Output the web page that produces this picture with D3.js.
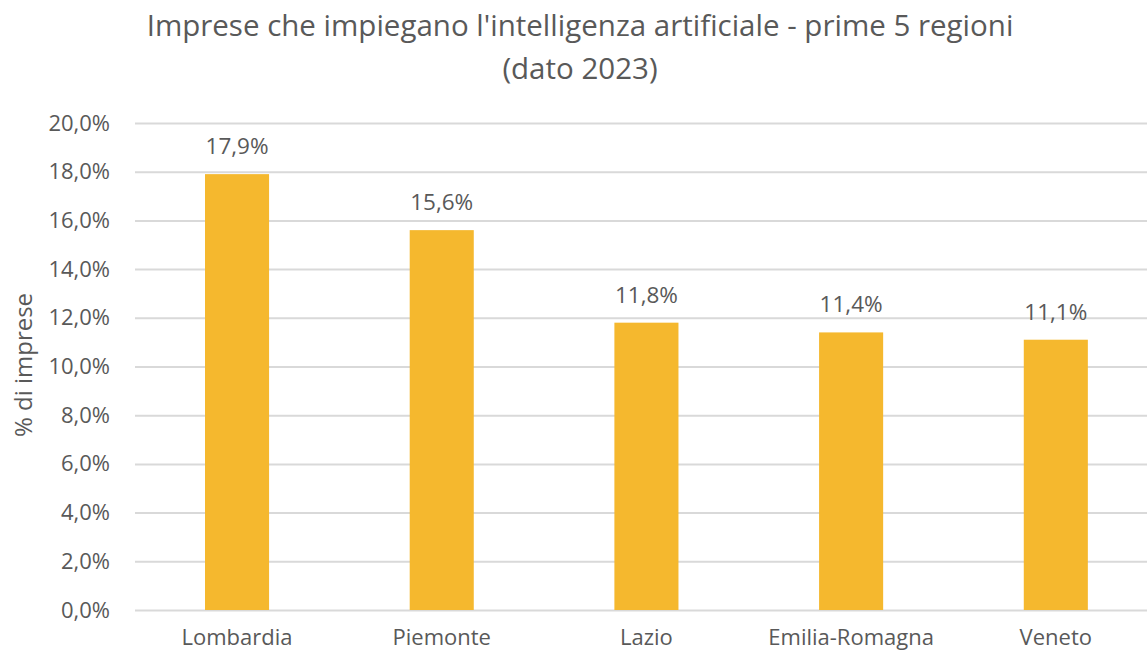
<!DOCTYPE html>
<html>
<head>
<meta charset="utf-8">
<script src="https://cdn.jsdelivr.net/npm/d3@7"></script>
<style>
  body { margin: 0; background: #fff; }
  text { font-family: "Open Sans", "Noto Sans", sans-serif; fill: #595959; }
</style>
</head>
<body>
<svg id="chart" width="1147" height="655"></svg>
<script>
const regions = ["Lombardia", "Piemonte", "Lazio", "Emilia-Romagna", "Veneto"];
const values = [17.9, 15.6, 11.8, 11.4, 11.1];
const yTicks = [0, 2, 4, 6, 8, 10, 12, 14, 16, 18, 20];
const titleLines = ["Imprese che impiegano l'intelligenza artificiale - prime 5 regioni", "(dato 2023)"];
const yTitle = "% di imprese";

const svg = d3.select("#chart");
const margin = {top: 123, right: 0, bottom: 45, left: 135};
const width = +svg.attr("width");
const height = +svg.attr("height");
const innerWidth = width - margin.left - margin.right;
const innerHeight = height - margin.top - margin.bottom;

const fmt = v => v.toFixed(1).replace(".", ",") + "%";

const chart = svg.append("g")
    .attr("transform", "translate(" + margin.left + "," + margin.top + ")");

// plot is cropped on the right in the original, so the bands are shifted with align
const x = d3.scaleBand()
    .domain(regions)
    .range([0, innerWidth])
    .paddingInner(0.687)
    .paddingOuter(0.3155)
    .align(0.542);

const y = d3.scaleLinear()
    .domain([0, 20])
    .range([innerHeight, 0]);

// gridlines + y labels
const yAxis = chart.append("g")
    .call(d3.axisLeft(y).tickValues(yTicks).tickSize(-innerWidth).tickFormat(fmt).tickPadding(25));
yAxis.select(".domain").remove();
yAxis.selectAll(".tick line").attr("stroke", "#d9d9d9").attr("stroke-width", 2);
yAxis.selectAll(".tick text")
    .style("font-size", "22px")
    .attr("fill", "#595959");

// bars
chart.selectAll("rect.bar")
    .data(values)
    .enter()
    .append("rect")
        .attr("class", "bar")
        .attr("x", (d, i) => x(regions[i]))
        .attr("y", d => y(d))
        .attr("width", x.bandwidth())
        .attr("height", d => innerHeight - y(d))
        .attr("fill", "#F5B82E");

// value labels
chart.selectAll("text.val")
    .data(values)
    .enter()
    .append("text")
        .attr("class", "val")
        .attr("x", (d, i) => x(regions[i]) + x.bandwidth() / 2)
        .attr("y", d => y(d) - 20)
        .attr("text-anchor", "middle")
        .style("font-size", "22.5px")
        .text(fmt);

// x labels
const xAxis = chart.append("g")
    .attr("transform", "translate(0," + innerHeight + ")")
    .call(d3.axisBottom(x).tickSize(0).tickPadding(0));
xAxis.select(".domain").remove();
xAxis.selectAll(".tick text")
    .attr("dy", null)
    .attr("y", 35)
    .style("font-size", "22px")
    .attr("fill", "#595959");

// title
svg.selectAll("text.title")
    .data(titleLines)
    .enter()
    .append("text")
        .attr("class", "title")
        .attr("x", 580)
        .attr("y", (d, i) => 36 + i * 43)
        .attr("text-anchor", "middle")
        .style("font-size", "29.5px")
        .text(d => d);

// y title
svg.append("text")
    .attr("transform", "translate(32,365) rotate(-90)")
    .attr("text-anchor", "middle")
    .style("font-size", "24px")
    .text(yTitle);
</script>
</body>
</html>
